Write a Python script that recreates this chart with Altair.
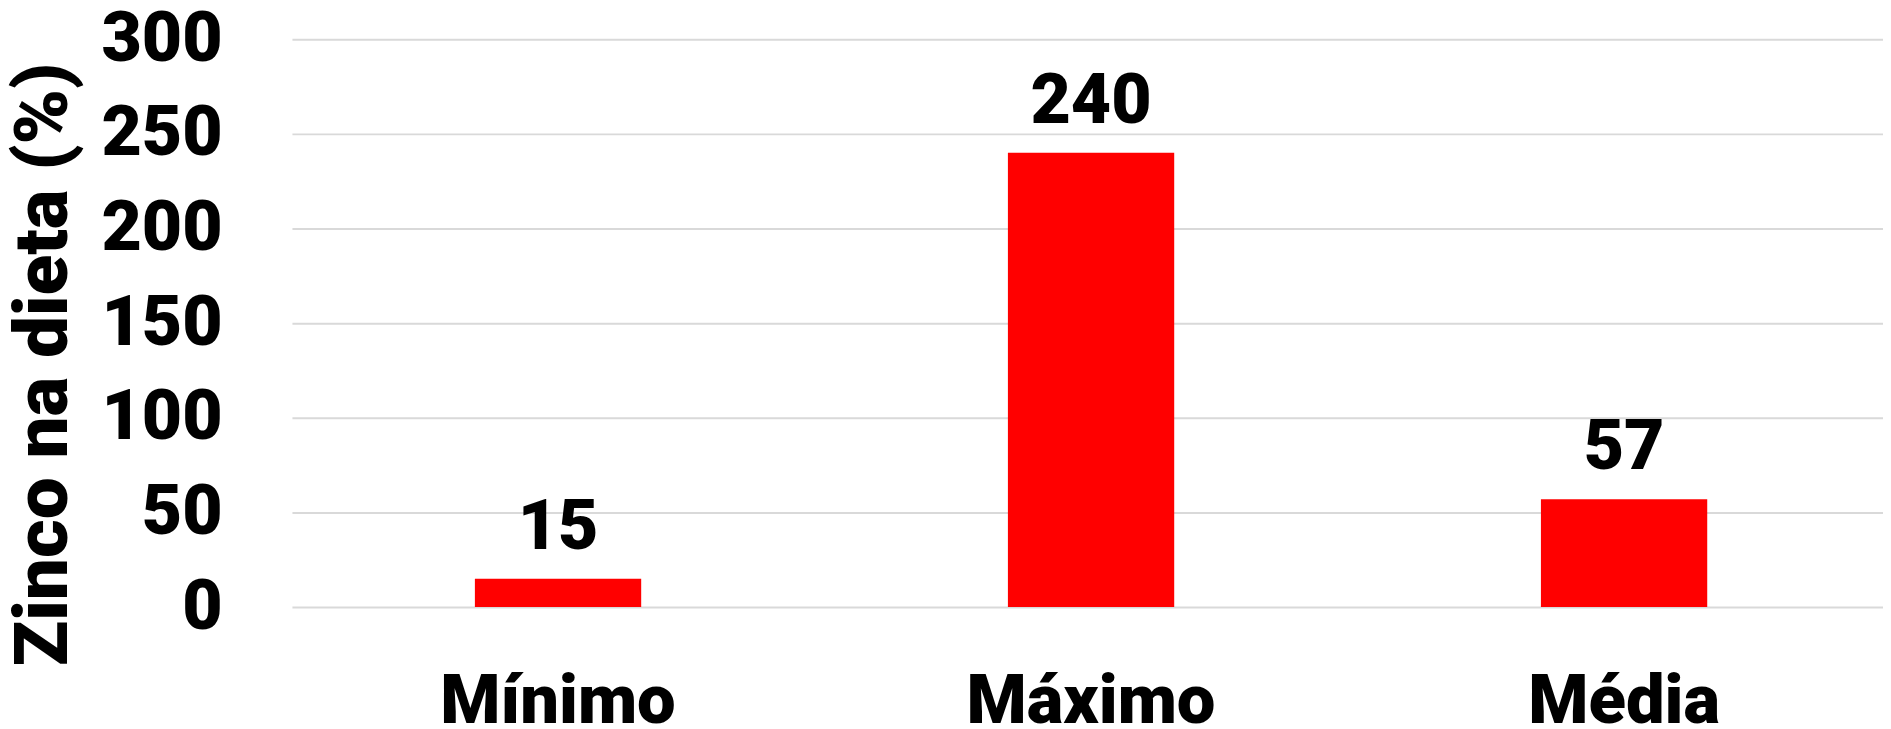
import altair as alt
import pandas as pd

categories = ["Mínimo", "Máximo", "Média"]
values = [15, 240, 57]
y_ticks = [0, 50, 100, 150, 200, 250, 300]
y_title = "Zinco na dieta (%)"

df = pd.DataFrame({"categoria": categories, "valor": values})

FONT = "Roboto"

base = alt.Chart(df).encode(
    x=alt.X(
        "categoria:N",
        sort=categories,
        title=None,
        scale=alt.Scale(paddingInner=0.688, paddingOuter=0.3365, align=0.51),
        axis=alt.Axis(
            labelAngle=0,
            labelFont=FONT,
            labelFontSize=69,
            labelFontWeight=900,
            labelColor="black",
            labelPadding=116,
            labelBaseline="alphabetic",
            labelLimit=0,
            ticks=False,
            tickSize=0,
            domain=False,
            grid=False,
        ),
    ),
    y=alt.Y(
        "valor:Q",
        scale=alt.Scale(domain=[0, 300], nice=False),
        title=y_title,
        axis=alt.Axis(
            values=y_ticks,
            labelFont=FONT,
            labelFontSize=70,
            labelFontWeight=900,
            labelColor="black",
            labelPadding=70,
            labelBaseline="middle",
            ticks=False,
            tickSize=0,
            domain=False,
            grid=True,
            gridColor="#d9d9d9",
            gridWidth=2,
            titleFont=FONT,
            titleFontSize=75,
            titleFontWeight=900,
            titleColor="black",
            titleAngle=270,
            titleAlign="center",
            titleBaseline="middle",
            titleLimit=0,
            titleX=-249,
            titleY=326,
        ),
    ),
)

bars = base.mark_bar(color="#FF0000")
labels = base.mark_text(
    dy=-30, baseline="alphabetic", font=FONT, fontSize=70, fontWeight=900, color="black"
).encode(text="valor:Q")

chart = (
    (bars + labels)
    .properties(
        width=1597,
        height=570,
        autosize=alt.AutoSizeParams(type="none"),
        padding={"left": 285, "top": 30, "right": 0, "bottom": 120},
    )
    .configure_view(stroke=None)
)

chart.save("out.html", embed_options={"renderer": "svg", "actions": False})
